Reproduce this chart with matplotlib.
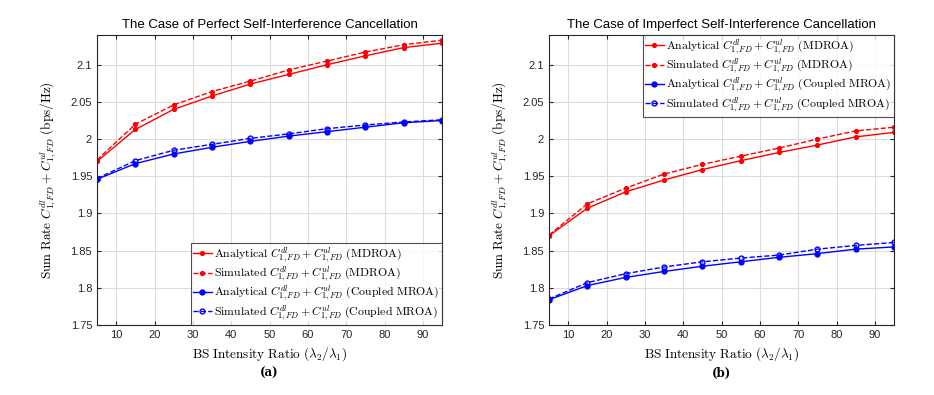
import matplotlib
matplotlib.use("Agg")
import matplotlib.pyplot as plt

plt.rcParams['font.family'] = ['Liberation Sans', 'DejaVu Sans']
plt.rcParams['mathtext.fontset'] = 'cm'

x = [5, 15, 25, 35, 45, 55, 65, 75, 85, 95]

# (a) perfect SIC
a_red_ana = [1.970, 2.013, 2.040, 2.058, 2.074, 2.087, 2.100, 2.112, 2.123, 2.129]
a_red_sim = [1.972, 2.020, 2.046, 2.064, 2.078, 2.093, 2.105, 2.117, 2.127, 2.133]
a_blue_ana = [1.946, 1.967, 1.980, 1.989, 1.997, 2.004, 2.010, 2.016, 2.022, 2.025]
a_blue_sim = [1.947, 1.971, 1.985, 1.993, 2.001, 2.007, 2.014, 2.019, 2.023, 2.026]

# (b) imperfect SIC
b_red_ana = [1.870, 1.907, 1.929, 1.945, 1.959, 1.971, 1.982, 1.992, 2.003, 2.009]
b_red_sim = [1.871, 1.913, 1.934, 1.953, 1.966, 1.977, 1.988, 2.000, 2.011, 2.016]
b_blue_ana = [1.784, 1.803, 1.814, 1.822, 1.829, 1.835, 1.841, 1.846, 1.852, 1.855]
b_blue_sim = [1.785, 1.807, 1.819, 1.828, 1.835, 1.840, 1.844, 1.852, 1.857, 1.861]

xticks = [10, 20, 30, 40, 50, 60, 70, 80, 90]
yticks = [1.75, 1.8, 1.85, 1.9, 1.95, 2.0, 2.05, 2.1]
yticklabels = ['1.75', '1.8', '1.85', '1.9', '1.95', '2', '2.05', '2.1']

titles = ['The Case of Perfect Self-Interference Cancellation',
          'The Case of Imperfect Self-Interference Cancellation']
captions = ['(a)', '(b)']
term = r'C^{dl}_{1,FD}+C^{ul}_{1,FD}'
labels = [r'$\mathrm{Analytical}\ ' + term + r'\ \mathrm{(MDROA)}$',
          r'$\mathrm{Simulated}\ ' + term + r'\ \mathrm{(MDROA)}$',
          r'$\mathrm{Analytical}\ ' + term + r'\ \mathrm{(Coupled\ MROA)}$',
          r'$\mathrm{Simulated}\ ' + term + r'\ \mathrm{(Coupled\ MROA)}$']

W, H = 934, 395
fig = plt.figure(figsize=(W / 100, H / 100), dpi=100)

panels = [
    (97, (a_red_ana, a_red_sim, a_blue_ana, a_blue_sim), 'lower right'),
    (549, (b_red_ana, b_red_sim, b_blue_ana, b_blue_sim), 'upper right'),
]
for i, (lpx, data, loc) in enumerate(panels):
    ax = fig.add_axes([lpx / W, (H - 325) / H, 345 / W, 290 / H])
    ra, rs, ba, bs = data
    ax.plot(x, ra, '-', color='red', marker='.', ms=5.5, lw=1.0, label=labels[0])
    ax.plot(x, rs, '--', color='red', marker='.', ms=5.5, lw=1.0, label=labels[1])
    ax.plot(x, ba, '-', color='blue', marker='o', ms=3.5, mfc='blue', mew=1.0, lw=1.0, label=labels[2])
    ax.plot(x, bs, '--', color='blue', marker='o', ms=3.5, mfc='none', mew=1.0, lw=1.0, label=labels[3])
    ax.set_xlim(5, 95)
    ax.set_ylim(1.75, 2.14)
    ax.set_xticks(xticks)
    ax.set_yticks(yticks)
    ax.set_yticklabels(yticklabels)
    ax.grid(True, color='#dcdcdc', lw=0.8)
    ax.set_axisbelow(True)
    ax.tick_params(direction='in', top=True, right=True, labelsize=8, length=3,
                   color='#262626', labelcolor='#262626')
    for s in ax.spines.values():
        s.set_color('#262626')
        s.set_linewidth(0.8)
    ax.set_title(titles[i], fontsize=9.5, pad=5)
    ax.set_xlabel(r'$\mathrm{BS\ Intensity\ Ratio}\ (\lambda_2/\lambda_1)$', fontsize=9.5, labelpad=4)
    ax.set_ylabel(r'$\mathrm{Sum\ Rate}\ C^{dl}_{1,FD}+C^{ul}_{1,FD}\ \mathrm{(bps/Hz)}$', fontsize=9.5, labelpad=8)
    leg = ax.legend(loc=loc, borderaxespad=0, fontsize=8.5, frameon=True, fancybox=False,
                    edgecolor='#262626', handlelength=1.6, handletextpad=0.2,
                    labelspacing=0.0, borderpad=0.2)
    leg.get_frame().set_linewidth(0.8)
    cx = (lpx + 345 / 2) / W
    fig.text(cx, 1 - 373 / H, captions[i], ha='center', va='center',
             fontsize=8.5, fontweight='bold', family='DejaVu Serif')

fig.savefig('out.png', dpi=100)
